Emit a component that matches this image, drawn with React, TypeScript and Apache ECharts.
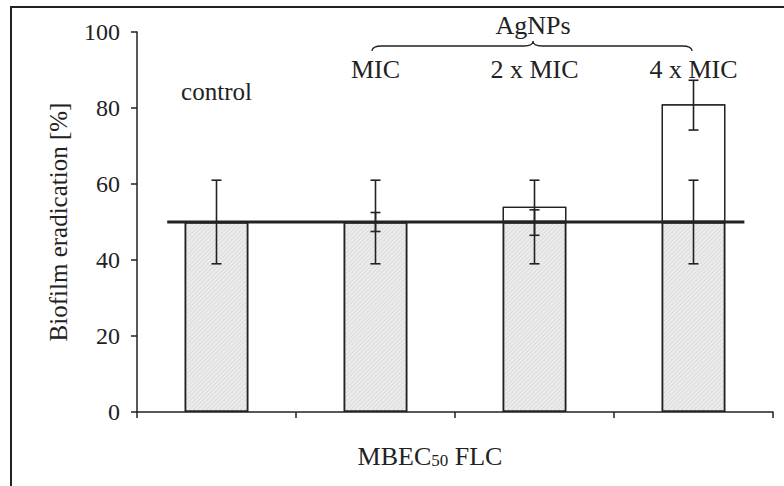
import React, { useEffect, useRef } from "react";
import * as echarts from "echarts";

const categories = ["control", "MIC", "2 x MIC", "4 x MIC"];
const baseValues = [50, 50, 50, 50];
const agnpExtra = [0, 0, 4, 31];
const baseErrLow = [39, 39, 39, 39];
const baseErrHigh = [61, 61, 61, 61];
const agnpErrLow = [null, 47.5, 46.5, 74.2];
const agnpErrHigh = [null, 52.5, 53.2, 87.3];
const refLevel = 50;
const yTicks = { min: 0, max: 100, interval: 20 };

const FONT = "Liberation Serif";
const INK = "#222";

echarts.graphic.registerShape(
  "brace",
  echarts.graphic.extendPath(
    "M372,51 Q372,46 382,46 L524,46 Q533,46 533,41 Q533,46 542,46 L682,46 Q692,46 692,51",
    {}
  )
);

export default function App() {
  const ref = useRef<HTMLDivElement>(null);
  useEffect(() => {
    if (!ref.current) return;
    const chart = echarts.init(ref.current, null, { renderer: "svg" });
    const errData: any[] = [];
    categories.forEach((_, i) => {
      errData.push([i, baseErrLow[i], baseErrHigh[i]]);
      if (agnpErrLow[i] != null) errData.push([i, agnpErrLow[i], agnpErrHigh[i]]);
    });
    chart.setOption({
      animation: false,
      textStyle: { fontFamily: FONT },
      aria: { enabled: true, decal: { show: true } },
      grid: { left: 137, right: 11, top: 32, bottom: 74 },
      xAxis: [
        {
          type: "category",
          data: categories,
          axisLine: { lineStyle: { color: INK, width: 1.5 } },
          axisTick: { show: true, length: 6, lineStyle: { color: INK, width: 1.5 } },
          axisLabel: { show: false },
        },
        {
          type: "value",
          min: -0.5,
          max: 3.5,
          show: false,
        },
      ],
      yAxis: {
        type: "value",
        min: yTicks.min,
        max: yTicks.max,
        interval: yTicks.interval,
        splitLine: { show: false },
        axisLine: { show: true, onZero: false, lineStyle: { color: INK, width: 1.5 } },
        axisTick: { show: true, length: 6, lineStyle: { color: INK, width: 1.5 } },
        axisLabel: { fontFamily: FONT, fontSize: 24, color: INK, margin: 17 },
        name: "Biofilm eradication [%]",
        nameLocation: "middle",
        nameGap: 66,
        nameTextStyle: { fontFamily: FONT, fontSize: 25, color: INK },
      },
      series: [
        {
          type: "bar",
          stack: "s",
          data: baseValues,
          barWidth: "40%",
          itemStyle: {
            color: "#ececec",
            borderColor: INK,
            borderWidth: 1.5,
            decal: {
              symbol: "rect",
              dashArrayX: [1, 0],
              dashArrayY: [1, 2],
              rotation: -Math.PI / 4,
              color: "rgba(200,200,200,0.45)",
              symbolSize: 1,
            },
          },
        },
        {
          type: "bar",
          stack: "s",
          data: agnpExtra,
          barWidth: "40%",
          itemStyle: {
            color: "#fff",
            borderColor: INK,
            borderWidth: 1.2,
            decal: { symbol: "none", color: "rgba(0,0,0,0)" },
          },
        },
        {
          type: "line",
          xAxisIndex: 1,
          data: [
            [-0.31, refLevel],
            [3.32, refLevel],
          ],
          symbol: "none",
          lineStyle: { color: INK, width: 3 },
          z: 5,
        },
        {
          type: "custom",
          z: 6,
          data: errData,
          renderItem: (params: any, api: any) => {
            const lo = api.coord([api.value(0), api.value(1)]);
            const hi = api.coord([api.value(0), api.value(2)]);
            const x = lo[0];
            const hw = 5;
            const st = { stroke: INK, lineWidth: 1.6 };
            return {
              type: "group",
              children: [
                { type: "line", shape: { x1: x, y1: lo[1], x2: x, y2: hi[1] }, style: st },
                { type: "line", shape: { x1: x - hw, y1: lo[1], x2: x + hw, y2: lo[1] }, style: st },
                { type: "line", shape: { x1: x - hw, y1: hi[1], x2: x + hw, y2: hi[1] }, style: st },
              ],
            };
          },
        },
      ],
    });

    const cx = (i: number) => chart.convertToPixel({ xAxisIndex: 0 }, categories[i]) as number;
    const txt = (text: string, x: number, y: number, size = 26) => ({
      type: "text",
      x,
      y,
      style: {
        text,
        fontFamily: FONT,
        fontSize: size,
        fill: INK,
        align: "center",
        verticalAlign: "middle",
      },
    });
    chart.setOption({
      graphic: [
        {
          type: "rect",
          shape: { x: 11, y: 7, width: 900, height: 600 },
          style: { fill: "none", stroke: INK, lineWidth: 2 },
          silent: true,
        },
        txt(categories[0], cx(0), 91, 25),
        txt(categories[1], cx(1), 69),
        txt(categories[2], cx(2), 69),
        txt(categories[3], cx(3), 69),
        txt("AgNPs", 533, 25),
        { type: "brace", x: 0, y: 0, style: { fill: "none", stroke: INK, lineWidth: 1.3 } },
        {
          type: "text",
          x: 430,
          y: 456,
          style: {
            text: "{a|MBEC}{s|50}{a| FLC}",
            align: "center",
            verticalAlign: "middle",
            fill: INK,
            rich: {
              a: { fontFamily: FONT, fontSize: 26, fill: INK },
              s: { fontFamily: FONT, fontSize: 17, fill: INK, padding: [9, 0, 0, 0] },
            },
          },
        },
      ],
    });
    return () => chart.dispose();
  }, []);
  return (
    <div
      ref={ref}
      style={{ position: "absolute", left: 0, top: 0, width: 784, height: 486 }}
    />
  );
}
